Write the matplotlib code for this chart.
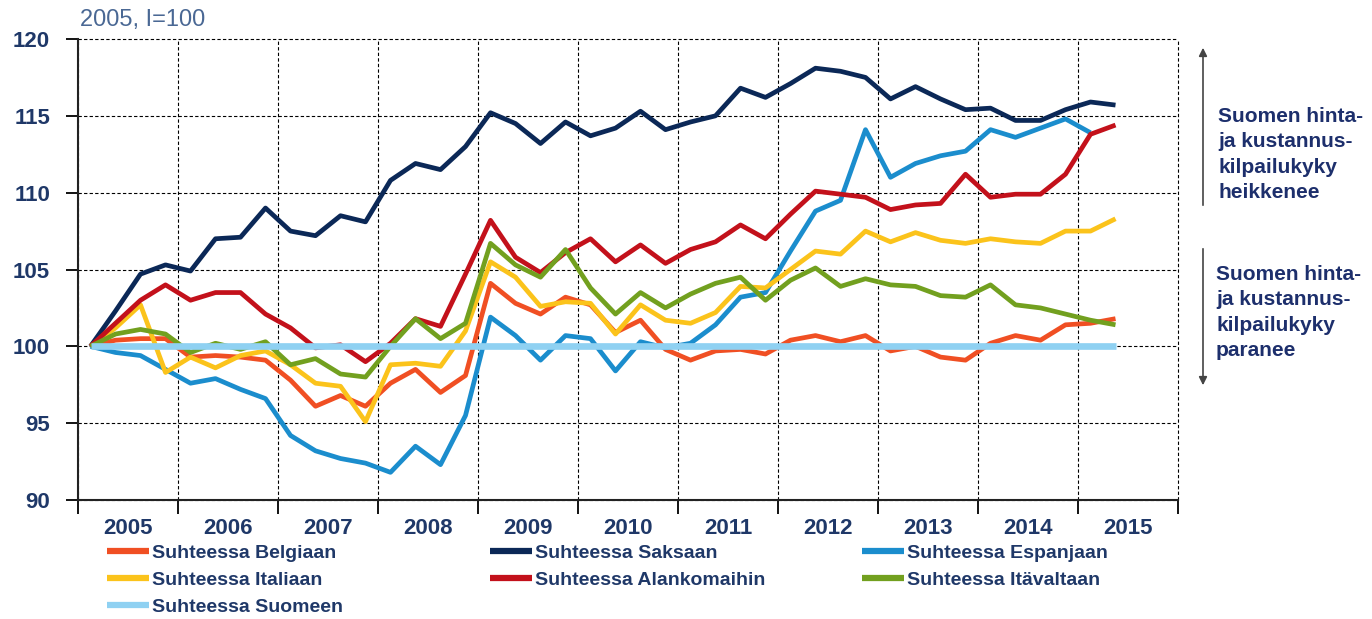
import numpy as np
import matplotlib.pyplot as plt
from matplotlib.patches import FancyArrowPatch

plt.rcParams['font.family'] = ['Liberation Sans', 'DejaVu Sans']

# neljännesvuosittaiset arvot 2005Q1 - 2015Q2, 2005 = 100
belgiaan = [100, 100.4, 100.5, 100.5, 99.3, 99.4, 99.3, 99.1, 97.8, 96.1, 96.8, 96.1, 97.6, 98.5,
            97.0, 98.1, 104.1, 102.8, 102.1, 103.2, 102.7, 100.9, 101.7, 99.8, 99.1, 99.7, 99.8,
            99.5, 100.4, 100.7, 100.3, 100.7, 99.7, 100.0, 99.3, 99.1, 100.2, 100.7, 100.4, 101.4,
            101.5, 101.8]
saksaan = [100, 102.3, 104.7, 105.3, 104.9, 107.0, 107.1, 109.0, 107.5, 107.2, 108.5, 108.1, 110.8,
           111.9, 111.5, 113.0, 115.2, 114.5, 113.2, 114.6, 113.7, 114.2, 115.3, 114.1, 114.6, 115.0,
           116.8, 116.2, 117.1, 118.1, 117.9, 117.5, 116.1, 116.9, 116.1, 115.4, 115.5, 114.7, 114.7,
           115.4, 115.9, 115.7]
espanjaan = [100, 99.6, 99.4, 98.5, 97.6, 97.9, 97.2, 96.6, 94.2, 93.2, 92.7, 92.4, 91.8, 93.5,
             92.3, 95.5, 101.9, 100.7, 99.1, 100.7, 100.5, 98.4, 100.3, 99.9, 100.2, 101.4, 103.2,
             103.5, 106.2, 108.8, 109.5, 114.1, 111.0, 111.9, 112.4, 112.7, 114.1, 113.6, 114.2,
             114.8, 113.9, np.nan]
italiaan = [100, 101.2, 102.7, 98.3, 99.3, 98.6, 99.4, 99.7, 98.8, 97.6, 97.4, 95.1, 98.8, 98.9,
            98.7, 101.0, 105.5, 104.5, 102.6, 102.9, 102.8, 100.8, 102.7, 101.7, 101.5, 102.2, 103.9,
            103.8, 105.0, 106.2, 106.0, 107.5, 106.8, 107.4, 106.9, 106.7, 107.0, 106.8, 106.7, 107.5,
            107.5, 108.3]
alankomaihin = [100, 101.5, 103.0, 104.0, 103.0, 103.5, 103.5, 102.1, 101.2, 99.9, 100.1, 99.0, 100.2,
                101.8, 101.3, 104.7, 108.2, 105.8, 104.8, 106.1, 107.0, 105.5, 106.6, 105.4, 106.3,
                106.8, 107.9, 107.0, 108.6, 110.1, 109.9, 109.7, 108.9, 109.2, 109.3, 111.2, 109.7,
                109.9, 109.9, 111.2, 113.8, 114.4]
itavaltaan = [100, 100.8, 101.1, 100.8, 99.6, 100.2, 99.8, 100.3, 98.8, 99.2, 98.2, 98.0, 100.0, 101.8,
              100.5, 101.5, 106.7, 105.3, 104.5, 106.3, 103.8, 102.1, 103.5, 102.5, 103.4, 104.1, 104.5,
              103.0, 104.3, 105.1, 103.9, 104.4, 104.0, 103.9, 103.3, 103.2, 104.0, 102.7, 102.5, 102.1,
              101.7, 101.4]
suomeen = [100, 100, 100, 100, 100, 100, 100, 100, 100, 100, 100, 100, 100, 100, 100, 100, 100, 100,
           100, 100, 100, 100, 100, 100, 100, 100, 100, 100, 100, 100, 100, 100, 100, 100, 100, 100,
           100, 100, 100, 100, 100, 100]

years = ['2005', '2006', '2007', '2008', '2009', '2010', '2011', '2012', '2013', '2014', '2015']

series = [
    ('Suhteessa Belgiaan', belgiaan, '#f04f23', 3.4),
    ('Suhteessa Saksaan', saksaan, '#0b2857', 3.4),
    ('Suhteessa Espanjaan', espanjaan, '#1b8dcd', 3.4),
    ('Suhteessa Italiaan', italiaan, '#fbc31b', 3.4),
    ('Suhteessa Alankomaihin', alankomaihin, '#c3111b', 3.4),
    ('Suhteessa Itävaltaan', itavaltaan, '#72a01f', 3.4),
    ('Suhteessa Suomeen', suomeen, '#8fd1f2', 4.8),
]

navy = '#1f3868'
W, H = 1372, 619
fig = plt.figure(figsize=(W / 100, H / 100), dpi=100)
ax = fig.add_axes([78 / W, 1 - 500 / H, 1100 / W, 461 / H])

lines = {}
for name, vals, col, lw in series:
    x = np.arange(len(vals)) + 0.5
    ln, = ax.plot(x, vals, color=col, lw=lw, solid_joinstyle='round', solid_capstyle='butt', label=name)
    lines[name] = ln

ax.set_xlim(0, 4 * len(years))
ax.set_ylim(90, 120)
ax.set_yticks(range(90, 121, 5))
ax.set_xticks(range(0, 4 * len(years) + 1, 4))
ax.set_xticklabels([])
ax.set_xticks(np.arange(len(years)) * 4 + 2, minor=True)
ax.set_xticklabels(years, minor=True)

ax.grid(True, which='major', color='black', linestyle=(0, (3, 2)), linewidth=0.8)
ax.set_axisbelow(True)
for gl in ax.get_xgridlines() + ax.get_ygridlines():
    gl.set_clip_on(False)
for s in ['top', 'right']:
    ax.spines[s].set_visible(False)
for s in ['left', 'bottom']:
    ax.spines[s].set_linewidth(1.5)
    ax.spines[s].set_color('#222222')

ax.tick_params(axis='y', direction='out', length=9, width=1.3, pad=11, labelsize=16, labelcolor=navy)
ax.tick_params(axis='x', which='major', direction='out', length=10, width=1.3)
ax.tick_params(axis='x', which='minor', length=0, pad=13, labelsize=16, labelcolor=navy)
for lab in ax.get_yticklabels() + ax.get_xticklabels(minor=True):
    lab.set_fontweight('bold')

fig.text(80 / W, 1 - 20 / H, '2005, I=100', fontsize=17, color='#4a6894', va='center', ha='left')

# selitteet kolmessa sarakkeessa
cols = [(107, ['Suhteessa Belgiaan', 'Suhteessa Italiaan', 'Suhteessa Suomeen']),
        (490, ['Suhteessa Saksaan', 'Suhteessa Alankomaihin']),
        (862, ['Suhteessa Espanjaan', 'Suhteessa Itävaltaan'])]
for xpix, names in cols:
    leg = fig.legend([lines[n] for n in names], names, loc='upper left',
                     bbox_to_anchor=(xpix / W, 1 - 544 / H), frameon=False,
                     borderpad=0, borderaxespad=0, handlelength=2.15, handletextpad=0.15,
                     labelspacing=0.5, prop={'size': 14, 'weight': 'bold'})
    for t in leg.get_texts():
        t.set_color(navy)
    for h in leg.legend_handles:
        h.set_linewidth(4.5)

# nuolet ja tekstit oikealla
arrow_kw = dict(arrowstyle='-|>', color='#444444', lw=1.2, mutation_scale=12, transform=fig.transFigure)
fig.add_artist(FancyArrowPatch((1203 / W, 1 - 208 / H), (1203 / W, 1 - 45 / H), **arrow_kw))
fig.add_artist(FancyArrowPatch((1203 / W, 1 - 246 / H), (1203 / W, 1 - 388 / H), **arrow_kw))
fig.text(1218 / W, 1 - 107 / H, 'Suomen hinta-\nja kustannus-\nkilpailukyky\nheikkenee',
         fontsize=15, fontweight='bold', color='#1d2f6c', va='top', ha='left', linespacing=1.42)
fig.text(1216 / W, 1 - 265 / H, 'Suomen hinta-\nja kustannus-\nkilpailukyky\nparanee',
         fontsize=15, fontweight='bold', color='#1d2f6c', va='top', ha='left', linespacing=1.42)

fig.savefig('out.png', dpi=100)
